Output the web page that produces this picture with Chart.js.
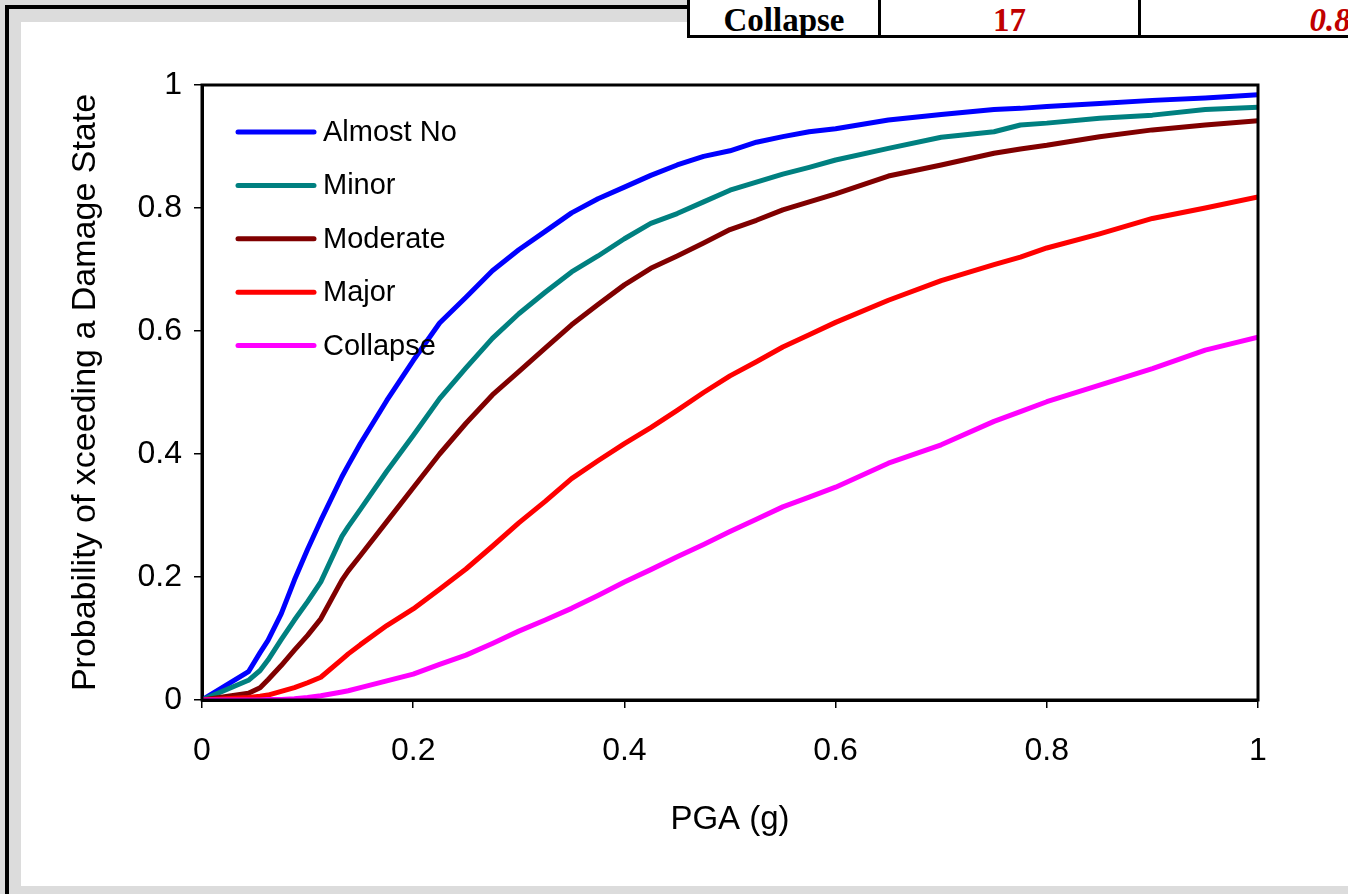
<!DOCTYPE html>
<html>
<head>
<meta charset="utf-8">
<script src="https://cdn.jsdelivr.net/npm/chart.js@4.4.0/dist/chart.umd.min.js"></script>
<style>
    html, body { margin: 0; padding: 0; }
    body {
        width: 1348px; height: 894px; overflow: hidden; position: relative;
        background: #dcdcdc;
        font-family: "Liberation Sans", Arial, sans-serif;
    }
    #frame-left { position: absolute; left: 5px; top: 5px; width: 4px; height: 889px; background: #000; }
    #frame-top { position: absolute; left: 5px; top: 5px; width: 685px; height: 4px; background: #000; }
    #panel { position: absolute; left: 21px; top: 22px; width: 1327px; height: 864px; background: #fff; }
    .cell {
        position: absolute; top: -10px; height: 48px; box-sizing: border-box;
        border: 3px solid #000; background: #fff;
        font-family: "Liberation Serif", "Times New Roman", serif; font-weight: bold; font-size: 33px;
        line-height: 1; text-align: center;
    }
    .cell span { position: absolute; left: 0; right: 0; top: 11px; }
    #c1 { left: 687px; width: 194px; }
    #c2 { left: 878px; width: 263px; color: #c00000; }
    #c3 { left: 1138px; width: 384px; color: #c00000; font-style: italic; }
    #chart { position: absolute; left: 0; top: 0; }
</style>
</head>
<body>
<div id="frame-left"></div>
<div id="frame-top"></div>
<div id="panel"></div>
<div class="cell" id="c1"><span>Collapse</span></div>
<div class="cell" id="c2"><span>17</span></div>
<div class="cell" id="c3"><span>0.8</span></div>
<canvas id="chart" width="1348" height="894"></canvas>
<script>
// PGA (g) values where the curves are sampled
const pga = [0, 0.044, 0.055, 0.0625, 0.075, 0.0875, 0.1, 0.1125, 0.1325, 0.1385, 0.15, 0.175, 0.2, 0.225, 0.25, 0.275,
    0.3, 0.325, 0.35, 0.375, 0.4, 0.425, 0.45, 0.475, 0.5, 0.525, 0.55, 0.575, 0.6, 0.65, 0.7, 0.75, 0.775, 0.8, 0.85, 0.9, 0.95, 1.0];

const almostNo = [0, 0.046, 0.077, 0.097, 0.14, 0.195, 0.245, 0.292, 0.363, 0.382, 0.417, 0.487, 0.552, 0.613, 0.655, 0.698,
    0.732, 0.762, 0.792, 0.815, 0.834, 0.853, 0.87, 0.884, 0.893, 0.907, 0.916, 0.924, 0.929, 0.943, 0.952, 0.96, 0.962, 0.965, 0.97, 0.975, 0.979, 0.984];
const minor = [0, 0.032, 0.048, 0.065, 0.098, 0.13, 0.16, 0.192, 0.266, 0.282, 0.31, 0.372, 0.43, 0.49, 0.54, 0.588,
    0.628, 0.663, 0.696, 0.722, 0.75, 0.775, 0.791, 0.81, 0.829, 0.842, 0.855, 0.866, 0.878, 0.897, 0.915, 0.924, 0.935, 0.938, 0.946, 0.951, 0.96, 0.964];
const moderate = [0, 0.011, 0.02, 0.033, 0.056, 0.081, 0.105, 0.132, 0.195, 0.21, 0.235, 0.29, 0.345, 0.4, 0.45, 0.496,
    0.534, 0.572, 0.61, 0.643, 0.675, 0.702, 0.722, 0.743, 0.765, 0.78, 0.797, 0.81, 0.823, 0.852, 0.87, 0.889, 0.896, 0.902, 0.916, 0.927, 0.935, 0.942];
const major = [0, 0.004, 0.006, 0.008, 0.014, 0.02, 0.028, 0.037, 0.066, 0.075, 0.09, 0.121, 0.148, 0.18, 0.213, 0.25,
    0.288, 0.323, 0.36, 0.389, 0.417, 0.443, 0.471, 0.5, 0.527, 0.55, 0.574, 0.594, 0.614, 0.65, 0.682, 0.708, 0.72, 0.735, 0.758, 0.783, 0.8, 0.818];
const collapse = [0, 0, 0, 0.001, 0.001, 0.002, 0.004, 0.007, 0.013, 0.015, 0.02, 0.031, 0.042, 0.058, 0.073, 0.092,
    0.112, 0.13, 0.149, 0.17, 0.192, 0.212, 0.233, 0.253, 0.274, 0.294, 0.314, 0.33, 0.346, 0.385, 0.415, 0.453, 0.469, 0.485, 0.512, 0.539, 0.569, 0.59];

const seriesNames = ['Almost No', 'Minor', 'Moderate', 'Major', 'Collapse'];
const seriesValues = [almostNo, minor, moderate, major, collapse];
const seriesColors = ['#0000ff', '#008080', '#800000', '#ff0000', '#ff00ff'];

const xTitle = 'PGA (g)';
const yTitle = 'Probability of xceeding a Damage State';

const FONT = '"Liberation Sans", Arial, sans-serif';

// excel style tick text: 0, 0.2 ... 1
const tickText = v => String(Math.round(v * 10) / 10);

// box around the plot area
const plotBox = {
    id: 'plotBox',
    afterDraw(chart) {
        const { ctx, chartArea } = chart;
        ctx.save();
        ctx.strokeStyle = '#000';
        ctx.lineWidth = 3;
        ctx.strokeRect(chartArea.left, chartArea.top, chartArea.right - chartArea.left, chartArea.bottom - chartArea.top);
        ctx.restore();
    }
};

// legend drawn inside the plot, like the excel one
const insideLegend = {
    id: 'insideLegend',
    afterDatasetsDraw(chart) {
        const { ctx, chartArea } = chart;
        ctx.save();
        ctx.font = '29px ' + FONT;
        ctx.textBaseline = 'middle';
        chart.data.datasets.forEach((ds, i) => {
            const y = chartArea.top + 47 + i * 53.4;
            ctx.strokeStyle = ds.borderColor;
            ctx.lineWidth = 5;
            ctx.lineCap = 'round';
            ctx.beginPath();
            ctx.moveTo(chartArea.left + 36, y);
            ctx.lineTo(chartArea.left + 112, y);
            ctx.stroke();
            ctx.fillStyle = '#000';
            ctx.fillText(ds.label, chartArea.left + 121, y + 1);
        });
        ctx.restore();
    }
};

const datasets = seriesNames.map((name, i) => ({
    label: name,
    data: pga.map((x, j) => ({ x: x, y: seriesValues[i][j] })),
    borderColor: seriesColors[i],
    backgroundColor: seriesColors[i],
    borderWidth: 5,
    borderJoinStyle: 'round',
    borderCapStyle: 'round',
    pointRadius: 0,
    showLine: true,
    tension: 0,
    order: seriesNames.length - i
}));

new Chart(document.getElementById('chart').getContext('2d'), {
    type: 'scatter',
    data: { datasets: datasets },
    options: {
        responsive: false,
        animation: false,
        devicePixelRatio: 1,
        layout: { padding: { left: 30, top: 85, right: 90, bottom: 0 } },
        plugins: {
            legend: { display: false },
            tooltip: { enabled: false }
        },
        scales: {
            x: {
                type: 'linear', min: 0, max: 1,
                afterFit: scale => { scale.height = 194; },
                ticks: { stepSize: 0.2, color: '#000', font: { family: FONT, size: 32 }, padding: 24, maxRotation: 0, callback: tickText },
                grid: { drawOnChartArea: false, drawTicks: true, tickLength: 8, color: '#000', lineWidth: 1.5 },
                border: { display: true, color: '#000', width: 3 },
                title: { display: true, text: xTitle, color: '#000', font: { family: FONT, size: 33 }, padding: { top: 0, bottom: 54 } }
            },
            y: {
                type: 'linear', min: 0, max: 1,
                afterFit: scale => { scale.width = 172; },
                ticks: { stepSize: 0.2, color: '#000', font: { family: FONT, size: 32 }, padding: 12, callback: tickText },
                grid: { drawOnChartArea: false, drawTicks: true, tickLength: 8, color: '#000', lineWidth: 1.5 },
                border: { display: true, color: '#000', width: 3 },
                title: { display: true, text: yTitle, color: '#000', font: { family: FONT, size: 34 }, padding: { top: 35, bottom: 0 } }
            }
        }
    },
    plugins: [plotBox, insideLegend]
});
</script>
</body>
</html>
